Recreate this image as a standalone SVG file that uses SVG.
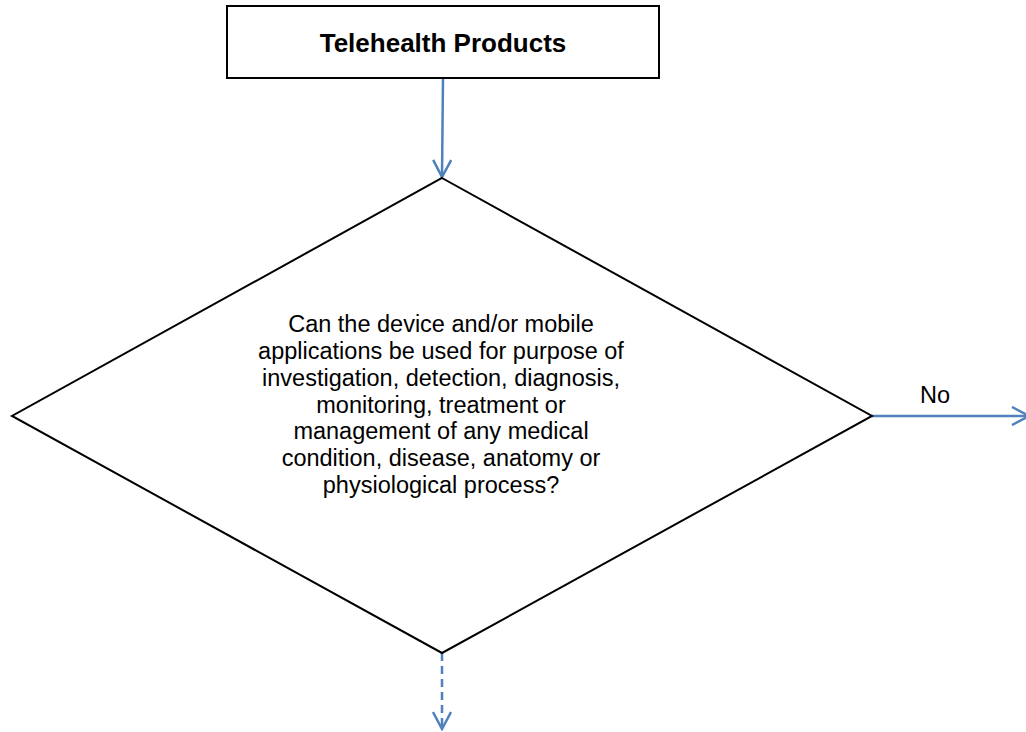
<svg xmlns="http://www.w3.org/2000/svg" width="1026" height="732" viewBox="0 0 1026 732">
<defs>
<style>
.box{fill:#fff;stroke:#000;stroke-width:2}
.conn{fill:none;stroke:#4F81BD;stroke-width:2.5}
.t{font-family:"Liberation Sans",Arial,sans-serif;font-size:23.5px;fill:#000;text-anchor:middle}
.title{font-family:"Liberation Sans",Arial,sans-serif;font-size:26px;font-weight:bold;fill:#000;text-anchor:middle}
</style>
<marker id="arr" viewBox="0 0 20 20" refX="18" refY="10" markerWidth="20" markerHeight="20" markerUnits="userSpaceOnUse" orient="auto">
<path d="M1,1 L18,10 L1,19" fill="none" stroke="#4F81BD" stroke-width="2.5"/>
</marker>
</defs>
<rect width="1026" height="732" fill="#fff"/>
<g id="connectors">
<line class="conn" x1="443" y1="78" x2="442" y2="177" marker-end="url(#arr)"/>
<line class="conn" x1="872" y1="416" x2="1029" y2="416" marker-end="url(#arr)"/>
<line class="conn" x1="442" y1="653" x2="442" y2="729" stroke-dasharray="8,5" marker-end="url(#arr)"/>
<text class="t" x="935" y="403">No</text>
</g>
<g id="node-telehealth">
<rect class="box" x="227" y="6" width="432" height="72"/>
<text class="title" x="443" y="52">Telehealth Products</text>
</g>
<g id="node-decision">
<polygon class="box" points="442,178 872,416 442,653 12,416"/>
<text class="t" x="441" y="332">Can the device and/or mobile</text>
<text class="t" x="441" y="358.8">applications be used for purpose of</text>
<text class="t" x="441" y="385.7">investigation, detection, diagnosis,</text>
<text class="t" x="441" y="412.5">monitoring, treatment or</text>
<text class="t" x="441" y="439.3">management of any medical</text>
<text class="t" x="441" y="466.2">condition, disease, anatomy or</text>
<text class="t" x="441" y="493">physiological process?</text>
</g>
</svg>
